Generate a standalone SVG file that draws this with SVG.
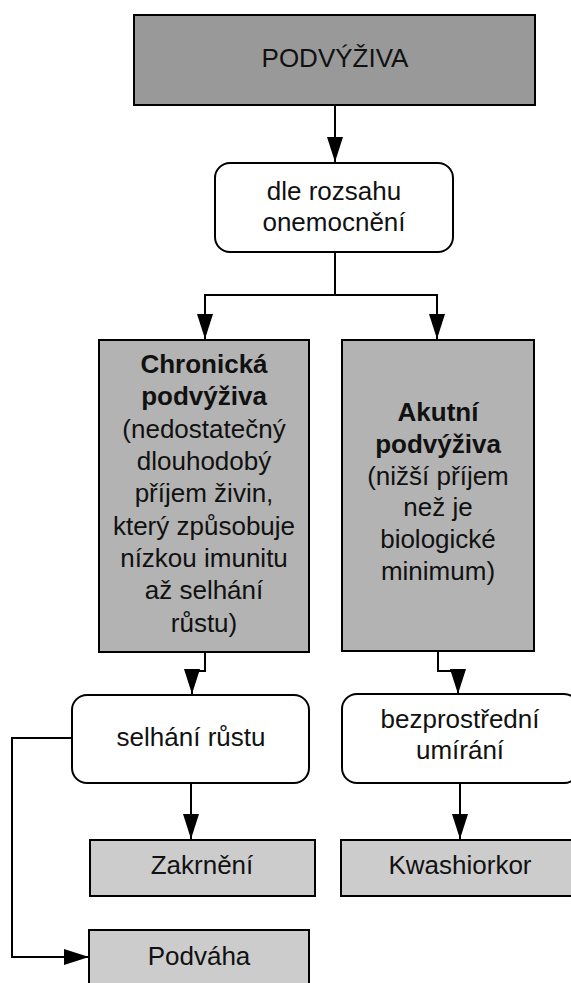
<svg xmlns="http://www.w3.org/2000/svg" width="571" height="983" viewBox="0 0 571 983">
<defs>
<style>
.box{stroke:#000;stroke-width:2}
.dark{fill:#999999}
.mid{fill:#b3b3b3}
.light{fill:#cccccc}
.white{fill:#ffffff}
text{font-family:"Liberation Sans",Arial,sans-serif;font-size:26px;fill:#111;text-anchor:middle}
.b{font-weight:bold}
.conn{fill:none;stroke:#000;stroke-width:2}
</style>
<marker id="arr" markerUnits="userSpaceOnUse" markerWidth="26" markerHeight="18" refX="25" refY="8" orient="auto" viewBox="0 0 26 18">
<path d="M0,0 L25,8 L0,16 z" fill="#000"/>
</marker>
</defs>
<rect width="571" height="983" fill="#fff"/>
<g id="connectors">
<path class="conn" d="M335,105 V162" marker-end="url(#arr)"/>
<path class="conn" d="M335,252 V295 H205 V339" marker-end="url(#arr)"/>
<path class="conn" d="M335,295 H437 V339" marker-end="url(#arr)"/>
<path class="conn" d="M205,652 V671 H192 V694" marker-end="url(#arr)"/>
<path class="conn" d="M438,651 V671 H458 V694" marker-end="url(#arr)"/>
<path class="conn" d="M191,783 V839" marker-end="url(#arr)"/>
<path class="conn" d="M460,783 V839" marker-end="url(#arr)"/>
<path class="conn" d="M72,738 H12 V957 H89" marker-end="url(#arr)"/>
</g>
<g id="podvyziva">
<rect class="box dark" x="134" y="15" width="401" height="90"/>
<text x="335" y="67">PODVÝŽIVA</text>
</g>
<g id="dle-rozsahu">
<rect class="box white" x="215" y="163" width="238" height="89" rx="15"/>
<text x="334" y="200">dle rozsahu</text>
<text x="334" y="231">onemocnění</text>
</g>
<g id="chronicka">
<rect class="box mid" x="99" y="340" width="210" height="312"/>
<text x="204" y="373" class="b">Chronická</text>
<text x="204" y="405" class="b">podvýživa</text>
<text x="204" y="438">(nedostatečný</text>
<text x="204" y="470">dlouhodobý</text>
<text x="204" y="502">příjem živin,</text>
<text x="204" y="535">který způsobuje</text>
<text x="204" y="567">nízkou imunitu</text>
<text x="204" y="599">až selhání</text>
<text x="204" y="632">růstu)</text>
</g>
<g id="akutni">
<rect class="box mid" x="342" y="340" width="192" height="311"/>
<text x="438" y="421" class="b">Akutní</text>
<text x="438" y="453" class="b">podvýživa</text>
<text x="438" y="485">(nižší příjem</text>
<text x="438" y="516">než je</text>
<text x="438" y="548">biologické</text>
<text x="438" y="580">minimum)</text>
</g>
<g id="selhani">
<rect class="box white" x="72" y="695" width="237" height="88" rx="15"/>
<text x="191" y="746">selhání růstu</text>
</g>
<g id="bezprostredni">
<rect class="box white" x="342" y="694" width="237" height="89" rx="15"/>
<text x="460" y="728">bezprostřední</text>
<text x="460" y="759">umírání</text>
</g>
<g id="zakrneni">
<rect class="box light" x="90" y="840" width="225" height="56"/>
<text x="202" y="874">Zakrnění</text>
</g>
<g id="kwashiorkor">
<rect class="box light" x="341" y="840" width="240" height="56"/>
<text x="460" y="874">Kwashiorkor</text>
</g>
<g id="podvaha">
<rect class="box light" x="89" y="930" width="220" height="60"/>
<text x="199" y="965">Podváha</text>
</g>
</svg>
